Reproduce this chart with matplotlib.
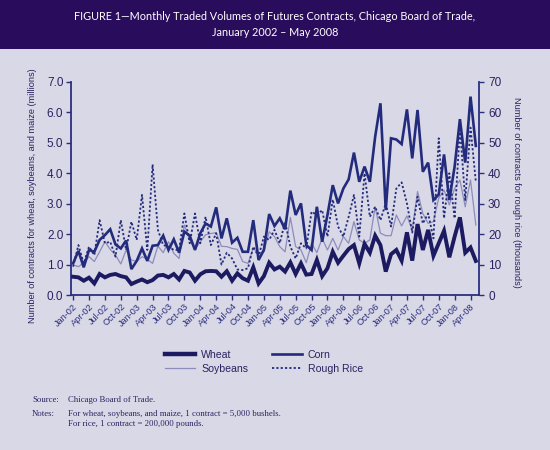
import matplotlib
matplotlib.use("Agg")
import matplotlib.pyplot as plt
from matplotlib.lines import Line2D
import numpy as np

# ---------------- data ----------------
months = ["Jan", "Feb", "Mar", "Apr", "May", "Jun", "Jul", "Aug", "Sep", "Oct", "Nov", "Dec"]
month_labels = [f"{months[k % 12]}-{2 + k // 12:02d}" for k in range(77)]  # Jan-02 .. May-08

wheat = [0.60, 0.58, 0.47, 0.57, 0.38, 0.69, 0.58, 0.66, 0.69, 0.62, 0.58, 0.36,
         0.44, 0.51, 0.42, 0.49, 0.64, 0.66, 0.58, 0.69, 0.51, 0.79, 0.74, 0.47,
         0.68, 0.78, 0.79, 0.78, 0.60, 0.78, 0.47, 0.71, 0.55, 0.47, 0.91, 0.38,
         0.62, 1.06, 0.84, 0.93, 0.77, 1.07, 0.69, 1.04, 0.67, 0.69, 1.15, 0.62,
         0.88, 1.42, 1.06, 1.29, 1.51, 1.64, 1.04, 1.68, 1.39, 1.95, 1.64, 0.77,
         1.34, 1.48, 1.13, 2.06, 1.13, 2.33, 1.48, 2.14, 1.29, 1.70, 2.11, 1.24,
         1.92, 2.55, 1.39, 1.56, 1.12]

corn = [1.04, 1.45, 0.91, 1.48, 1.42, 1.81, 1.97, 2.16, 1.66, 1.53, 1.79, 0.85,
        1.12, 1.53, 1.12, 1.62, 1.64, 1.95, 1.48, 1.83, 1.39, 2.08, 1.95, 1.48,
        2.03, 2.35, 2.25, 2.88, 1.86, 2.52, 1.72, 1.88, 1.42, 1.42, 2.46, 1.15,
        1.48, 2.66, 2.27, 2.52, 2.16, 3.43, 2.63, 3.01, 1.64, 1.48, 2.90, 1.75,
        2.63, 3.61, 3.01, 3.50, 3.80, 4.68, 3.72, 4.22, 3.72, 5.20, 6.30, 2.79,
        5.15, 5.11, 4.96, 6.10, 4.49, 6.08, 4.05, 4.35, 3.12, 3.30, 4.62, 3.12,
        4.22, 5.78, 4.35, 6.52, 4.90]

soybeans = [0.99, 0.93, 1.06, 1.26, 1.10, 1.42, 1.75, 1.50, 1.31, 1.02, 1.48, 1.15,
            1.10, 1.26, 1.17, 1.04, 1.61, 1.39, 1.75, 1.37, 1.20, 2.30, 1.80, 1.50,
            1.75, 1.98, 2.02, 2.05, 1.60, 1.59, 1.53, 1.50, 1.10, 1.04, 1.53, 1.37,
            1.42, 2.08, 1.92, 1.59, 1.42, 2.55, 1.59, 1.48, 1.06, 1.70, 1.39, 1.86,
            1.48, 1.86, 1.48, 1.92, 1.70, 2.41, 1.81, 1.70, 1.81, 2.90, 2.03, 1.95,
            1.95, 2.63, 2.27, 2.60, 2.14, 3.40, 2.68, 2.35, 2.41, 3.18, 3.45, 2.96,
            3.50, 3.78, 2.90, 3.78, 2.30]

rough_rice = [9.3, 16.4, 10.4, 15.9, 13.1, 24.6, 17.0, 17.5, 12.6, 24.6, 14.8, 24.1,
              18.1, 32.9, 14.8, 42.9, 21.4, 16.4, 15.9, 14.8, 14.8, 26.8, 17.0, 26.8,
              17.0, 25.7, 16.4, 20.3, 10.0, 13.9, 12.0, 8.4, 8.2, 8.8, 15.9, 12.6,
              19.2, 18.1, 21.4, 17.0, 24.1, 15.9, 12.0, 17.0, 15.3, 27.4, 26.3, 27.9,
              19.2, 31.4, 22.5, 19.2, 25.7, 32.9, 19.2, 40.0, 25.7, 29.0, 24.6, 30.1,
              22.5, 35.0, 37.0, 30.1, 20.5, 32.3, 23.5, 26.8, 18.6, 51.5, 25.2, 40.0,
              25.2, 55.0, 31.2, 55.0, 37.2]

left_ticks = [0, 1, 2, 3, 4, 5, 6, 7]
right_ticks = [0, 10, 20, 30, 40, 50, 60, 70]

title_text = ("FIGURE 1\u2014Monthly Traded Volumes of Futures Contracts, Chicago Board of Trade,\n"
              "January 2002 \u2013 May 2008")
left_label = "Number of contracts for wheat, soybeans, and maize (millions)"
right_label = "Number of contracts for rough rice (thousands)"

# ---------------- style ----------------
BG = "#d9d8e6"
BAND = "#2a0c5c"
WHEAT_C = "#1c1a60"
CORN_C = "#232b7c"
SOY_C = "#8d8cbc"
RICE_C = "#232b7c"
AX_C = "#2b2e7e"
TXT_C = "#2a2260"

fig = plt.figure(figsize=(5.5, 4.5), dpi=100, facecolor=BG)

# title band
band = fig.add_axes([0, 1 - 49 / 450, 1, 49 / 450])
band.set_facecolor(BAND)
band.set_xticks([]); band.set_yticks([])
for s in band.spines.values():
    s.set_visible(False)
band.text(0.5, 0.5, title_text, ha="center", va="center", color="white",
          fontsize=7.8, family="Lato", linespacing=1.5, transform=band.transAxes)

ax = fig.add_axes([71 / 550, 1 - 295 / 450, (479 - 71) / 550, (295 - 82) / 450])
ax.set_facecolor(BG)
x = np.arange(len(wheat))

ax.plot(x, soybeans, color=SOY_C, lw=0.9, zorder=2)
ax.plot(x, wheat, color=WHEAT_C, lw=2.8, zorder=4, solid_joinstyle="miter")
ax.plot(x, corn, color=CORN_C, lw=1.9, zorder=5, solid_joinstyle="miter")

ax2 = ax.twinx()
ax2.plot(x, rough_rice, color=RICE_C, lw=1.3, ls=(0, (1.2, 1.2)), zorder=3)

ax.set_xlim(-0.4, 76.6)
ax.set_ylim(0, 7)
ax2.set_ylim(0, 70)

ax.set_yticks(left_ticks)
ax.set_yticklabels([f"{v:.1f}" for v in left_ticks])
ax2.set_yticks(right_ticks)
ax2.set_yticklabels([str(v) for v in right_ticks])

tick_pos = list(range(0, 77, 3))
ax.set_xticks(tick_pos)
ax.set_xticklabels([month_labels[i] for i in tick_pos], rotation=45, ha="right",
                   rotation_mode="anchor", fontsize=6.6, color=TXT_C, family="Liberation Sans")

for a in (ax, ax2):
    a.spines["top"].set_visible(False)
    for s in ("left", "right", "bottom"):
        a.spines[s].set_color(AX_C)
        a.spines[s].set_linewidth(1.3)
    a.tick_params(colors=AX_C, width=1.0, length=3.5, direction="out")
ax.spines["right"].set_visible(False)
ax2.spines["left"].set_visible(False)
ax2.spines["bottom"].set_visible(False)

for lab in ax.get_yticklabels() + ax2.get_yticklabels():
    lab.set_fontsize(8.5)
    lab.set_color(TXT_C)
    lab.set_family("Liberation Sans")
ax.tick_params(axis="y", pad=2)
ax2.tick_params(axis="y", pad=3)
ax.tick_params(axis="x", pad=1.5)

fig.text(33 / 550, 1 - 196 / 450, left_label, rotation=90, ha="center", va="center",
         fontsize=6.6, color=TXT_C, family="Liberation Sans")
fig.text(517 / 550, 1 - 192 / 450, right_label, rotation=270, ha="center", va="center",
         fontsize=6.6, color=TXT_C, family="Liberation Sans")

# legend
handles = [
    Line2D([], [], color=WHEAT_C, lw=3.2),
    Line2D([], [], color=SOY_C, lw=0.9),
    Line2D([], [], color=CORN_C, lw=1.9),
    Line2D([], [], color=RICE_C, lw=1.3, ls=(0, (1.2, 1.2))),
]
labels = ["Wheat", "Soybeans", "Corn", "Rough Rice"]
leg = fig.legend(handles, labels, ncol=2, loc="center", bbox_to_anchor=(264 / 550, 1 - 362 / 450),
                 frameon=False, handlelength=2.85, handletextpad=0.6,
                 columnspacing=2.2, labelspacing=0.35, borderpad=0,
                 prop={"family": "Liberation Sans", "size": 7.6})
for t in leg.get_texts():
    t.set_color(TXT_C)

# source & notes
note_kw = dict(fontsize=6.3, color=TXT_C, family="Liberation Serif", va="center", ha="left")
fig.text(32 / 550, 1 - 400 / 450, "Source:", **note_kw)
fig.text(68 / 550, 1 - 400 / 450, "Chicago Board of Trade.", **note_kw)
fig.text(32 / 550, 1 - 413.5 / 450, "Notes:", **note_kw)
fig.text(68 / 550, 1 - 413.5 / 450, "For wheat, soybeans, and maize, 1 contract = 5,000 bushels.", **note_kw)
fig.text(68 / 550, 1 - 424 / 450, "For rice, 1 contract = 200,000 pounds.", **note_kw)

fig.savefig("out.png", dpi=100, facecolor=BG)
